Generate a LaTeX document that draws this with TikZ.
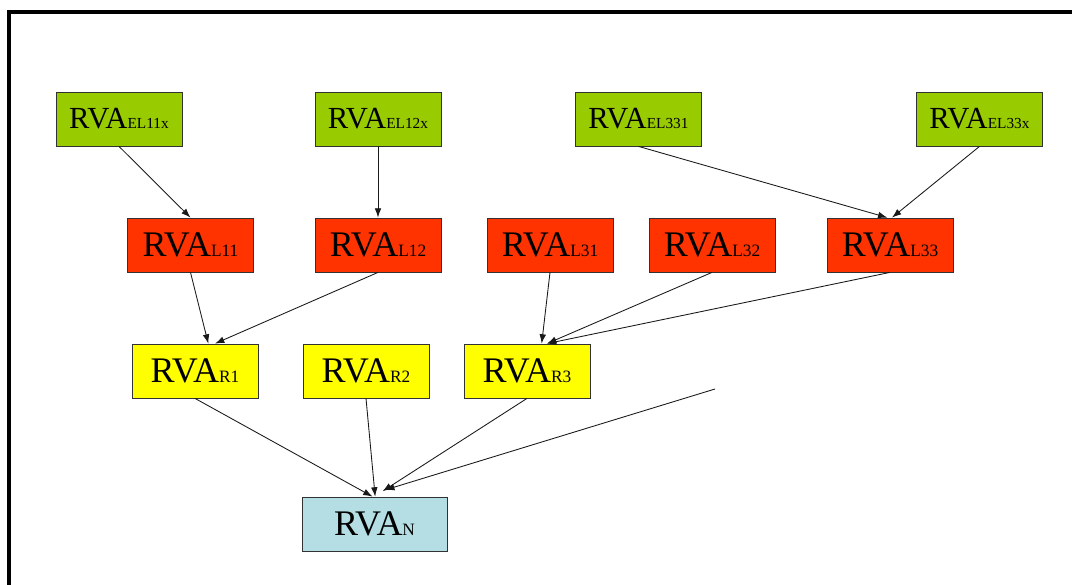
\documentclass[tikz,border=0pt]{standalone}
\usepackage{fontspec}
\setmainfont{Liberation Serif}
\usetikzlibrary{arrows.meta}
\definecolor{elgreen}{RGB}{153,204,0}
\definecolor{lred}{RGB}{255,51,0}
\definecolor{ryellow}{RGB}{255,255,0}
\definecolor{nblue}{RGB}{180,222,228}
\definecolor{edgegray}{RGB}{50,50,50}
\newcommand{\rvabig}[1]{{\fontsize{27}{27}\selectfont RVA}{\fontsize{13}{13}\selectfont #1}}
\newcommand{\rvasmall}[1]{{\fontsize{23}{23}\selectfont RVA}{\fontsize{11.5}{11.5}\selectfont #1}}
\tikzset{
  box/.style={draw=edgegray, line width=0.6pt, rectangle, inner sep=0pt,
    minimum width=94.5pt, minimum height=40.5pt},
  elbox/.style={box, fill=elgreen},
  lbox/.style={box, fill=lred},
  rbox/.style={box, fill=ryellow},
  nbox/.style={box, fill=nblue, minimum width=108.75pt},
  arr/.style={draw=black!90, line width=0.65pt, -{Latex[length=7pt,width=5pt]}},
}
\begin{document}
\begin{tikzpicture}[x=0.75pt, y=-0.75pt]
  \useasboundingbox (0,0) rectangle (1072,585);
  % frame strokes along the top and left edges
  \fill[black] (7,10) rectangle (1072,14);
  \fill[black] (7,10) rectangle (11,585);

  % top row
  \node[elbox] (el11) at (119,119) {\rvasmall{EL11x}};
  \node[elbox] (el12) at (378,119) {\rvasmall{EL12x}};
  \node[elbox] (el331) at (638.5,119) {\rvasmall{EL331}};
  \node[elbox] (el33) at (979.5,119) {\rvasmall{EL33x}};

  % second row
  \node[lbox] (l11) at (190.5,245) {\rvabig{L11}};
  \node[lbox] (l12) at (378,245) {\rvabig{L12}};
  \node[lbox] (l31) at (550,245) {\rvabig{L31}};
  \node[lbox] (l32) at (712,245) {\rvabig{L32}};
  \node[lbox] (l33) at (890,245) {\rvabig{L33}};

  % third row
  \node[rbox] (r1) at (195,371) {\rvabig{R1}};
  \node[rbox] (r2) at (366,371) {\rvabig{R2}};
  \node[rbox] (r3) at (527,371) {\rvabig{R3}};

  % bottom
  \node[nbox] (n) at (374.5,524) {\rvabig{N}};
  \coordinate (free) at (715,389);

  % connectors
  \draw[arr] (el11.south) -- (l11.north);
  \draw[arr] (el12.south) -- (l12.north);
  \draw[arr] (el331.south) -- ([xshift=-2pt]l33.north);
  \draw[arr] (el33.south) -- ([xshift=1.5pt]l33.north);

  \draw[arr] (l11.south) -- ([xshift=10pt]r1.north);
  \draw[arr] (l12.south) -- ([xshift=15pt]r1.north);
  \draw[arr] (l31.south) -- ([xshift=11pt]r3.north);
  \draw[arr] (l32.south) -- ([xshift=15pt]r3.north);
  \draw[arr] (l33.south) -- ([xshift=15pt]r3.north);

  \draw[arr] (r1.south) -- ([xshift=-1.5pt]n.north);
  \draw[arr] (r2.south) -- ([xshift=0.5pt]n.north);
  \draw[arr] (r3.south) -- ([xshift=6pt,yshift=4pt]n.north);
  \draw[arr] (free) -- ([xshift=8pt,yshift=5pt]n.north);
\end{tikzpicture}
\end{document}
